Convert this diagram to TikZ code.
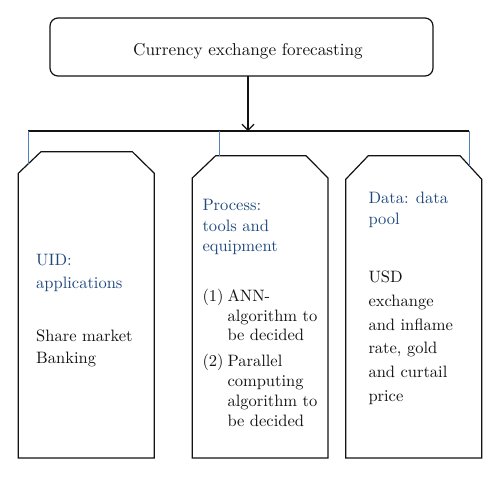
\documentclass[tikz,border=0pt]{standalone}
\usepackage{fontspec}
\setmainfont{lmroman10-regular.otf}
\usetikzlibrary{arrows.meta,calc}
\definecolor{headblue}{RGB}{31,73,125}
\definecolor{lineblue}{RGB}{79,129,189}
\definecolor{ink}{RGB}{20,18,18}
\begin{document}
\begin{tikzpicture}[x=1pt,y=-1pt,
  outline/.style={draw=ink, line width=1.2pt, line join=miter},
  area/.style={inner sep=0pt, outer sep=0pt, draw=none},
  titlebox/.style={draw=ink, line width=1.2pt, rounded corners=8pt, minimum width=383pt, minimum height=58pt, inner sep=0pt, outer sep=0pt},
  head/.style={text=headblue, font=\fontsize{16.5}{#1}\selectfont, align=left, anchor=base west, inner sep=0pt},
  head/.default=20,
  body/.style={text=ink, font=\fontsize{16.5}{#1}\selectfont, align=left, anchor=base west, inner sep=0pt},
  body/.default=20,
  feed/.style={draw=lineblue, line width=1pt},
  bus/.style={draw=ink, line width=1.1pt}]
\useasboundingbox (0,0) rectangle (500,477);

% title
\node[titlebox] (title) at (241.5,47) {};
\node[text=ink, font=\fontsize{17.2}{20}\selectfont, anchor=base, inner sep=0pt] (titletext) at (248,55) {Currency exchange forecasting};

% bus
\coordinate (hub) at (248,131);
\coordinate (busL) at (28,131);
\coordinate (busM) at (219,131);
\coordinate (busR) at (469.3,131);
\draw[bus] (busL) -- (busR);
\draw[ink, line width=1.1pt, -{Straight Barb[length=6pt,width=12pt]}] (title.south -| hub) -- (hub);

% boxes
\node[area, minimum width=136pt, minimum height=306.3pt] (b1) at (86.3,304.85) {};
\node[area, minimum width=135.7pt, minimum height=302.3pt] (b2) at (260.15,306.85) {};
\node[area, minimum width=136pt, minimum height=302.3pt] (b3) at (413.7,306.85) {};

\draw[outline] (b1.south west) -- ([yshift=-21.6pt]b1.north west) -- ([xshift=22.7pt]b1.north west)
  -- ([xshift=-22pt]b1.north east) -- ([yshift=-21.6pt]b1.north east) -- (b1.south east) -- cycle;
\draw[outline] (b2.south west) -- ([yshift=-22.3pt]b2.north west) -- ([xshift=23.4pt]b2.north west)
  -- ([xshift=-22pt]b2.north east) -- ([yshift=-22.3pt]b2.north east) -- (b2.south east) -- cycle;
\draw[outline] (b3.south west) -- ([yshift=-23.6pt]b3.north west) -- ([xshift=22.6pt]b3.north west)
  -- ([xshift=-21.7pt]b3.north east) -- ([yshift=-23.6pt]b3.north east) -- (b3.south east) -- cycle;

% feeds
\coordinate (f1) at (28,164.2);
\coordinate (f3) at (469.3,165.8);
\draw[feed] (busL) -- (f1);
\draw[feed] (busM) -- (busM |- b2.north);
\draw[feed] (busR) -- (f3);

% texts box 1 (anchor = baseline of last line)
\node[head=23.3] (h1) at (36,288.3) {UID:\\applications};
\node[body=21.6] (t1) at (36,363.3) {Share market\\Banking};

% texts box 2
\node[head=20.5] (h2) at (202.3,251.7) {Process:\\tools and\\equipment};
\node[body] (n1) at (202.3,301.7) {(1)};
\node[body=19.5] (t2a) at (227.3,340.7) {ANN-\\algorithm to\\be decided};
\node[body] (n2) at (202.3,366.7) {(2)};
\node[body=20] (t2b) at (227.3,426.7) {Parallel\\computing\\algorithm to\\be decided};

% texts box 3
\node[head=20.7] (h3) at (368.3,224) {Data: data\\pool};
\node[body=23.8] (t3) at (368.3,401.5) {USD\\exchange\\and inflame\\rate, gold\\and curtail\\price};
\end{tikzpicture}
\end{document}
